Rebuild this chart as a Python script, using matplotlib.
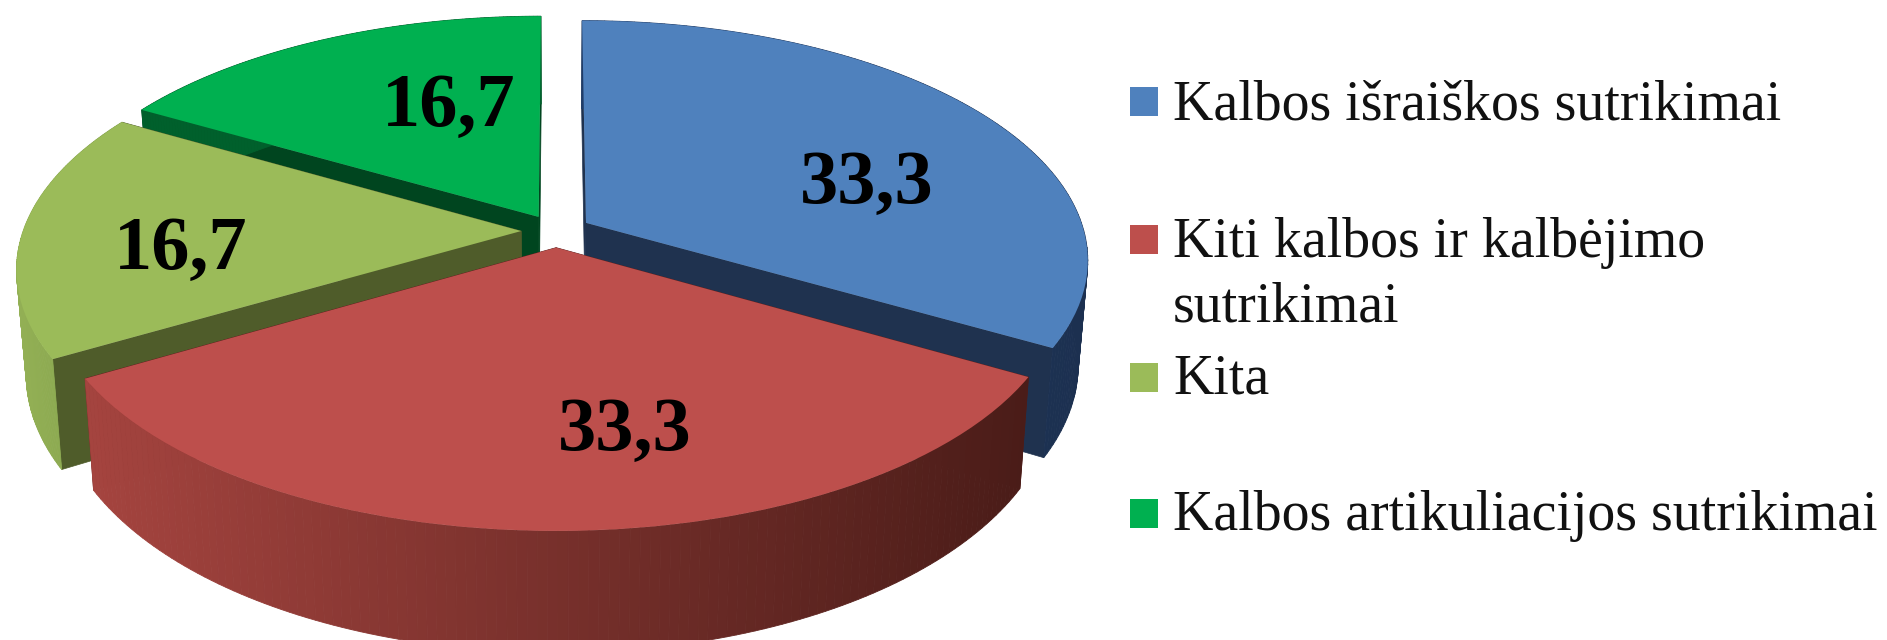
import numpy as np
import matplotlib
matplotlib.use("Agg")
import matplotlib.pyplot as plt
from matplotlib.patches import Polygon, Rectangle
from matplotlib.transforms import Transform
from matplotlib.colors import to_rgb

# ---- data ----
categories = ["Kalbos išraiškos sutrikimai", "Kiti kalbos ir kalbėjimo\nsutrikimai",
              "Kita", "Kalbos artikuliacijos sutrikimai"]
values = [33.3, 33.3, 16.7, 16.7]
value_labels = ["33,3", "33,3", "16,7", "16,7"]

# ---- style ----
top_colors = ["#4F81BD", "#BD4F4C", "#9BBB59", "#00B050"]
cut_colors = ["#1F324F", "#5A1F1D", "#4F5C2A", "#00451F"]
rim_left = ["#1F3C68", "#A5443F", "#93B055", "#00602C"]
rim_right = ["#1C3050", "#4A1C18", "#82A04A", "#00602C"]
draw_order = [3, 2, 0, 1]          # back to front
label_xy = [(867, 184), (625, 431), (181, 250), (449, 107)]
legend_y = [101, 239, 377, 513]
legend_base = [120, 257, 393, 530]

CX, CY = 556.0, 231.0
RX, RY = 498.0, 235.0
PERSP = 0.151
DEPTH = 102.0
SHRINK = 0.018
EXPLODE = 0.07
FONT = "Liberation Serif"


def project(x, y, bottom=False):
    x = np.asarray(x, float)
    y = np.asarray(y, float)
    s = 1.0 / (1.0 + PERSP * y)
    k = 1.0 - SHRINK if bottom else 1.0
    sx = CX + RX * x * s * k
    sy = CY - RY * y * s + (DEPTH * s if bottom else 0.0)
    return np.column_stack([sx, sy])


class Perspective(Transform):
    input_dims = 2
    output_dims = 2
    is_separable = False
    has_inverse = False

    def transform_non_affine(self, values):
        v = np.asarray(values, float)
        return project(v[:, 0], v[:, 1])


fig = plt.figure(figsize=(18.87, 6.40), dpi=100, facecolor="white")
ax = fig.add_axes([0, 0, 1, 1])

wedges, _ = ax.pie(values, explode=[EXPLODE] * len(values), colors=top_colors,
                   startangle=90, counterclock=False, radius=1.0,
                   wedgeprops=dict(linewidth=0))
ax.set_aspect("auto")
ax.set_xlim(0, 1887)
ax.set_ylim(640, 0)
ax.axis("off")

persp = Perspective() + ax.transData
for order, i in enumerate(draw_order):
    w = wedges[i]
    z = 10 + order * 3
    w.set_transform(persp)
    w.set_zorder(z + 2)
    cx, cy = w.center
    r = w.r
    t1, t2 = np.radians(w.theta1), np.radians(w.theta2)

    # radial cut faces
    for t in (t1, t2):
        px, py = cx + r * np.cos(t), cy + r * np.sin(t)
        top = project([cx, px], [cy, py])
        bot = project([cx, px], [cy, py], bottom=True)
        ax.add_patch(Polygon(np.vstack([top, bot[::-1]]), closed=True,
                             facecolor=cut_colors[i], edgecolor=cut_colors[i],
                             linewidth=0.5, zorder=z))

    # outer rim, strip by strip with a left-to-right shade
    ts = np.linspace(t1, t2, 121)
    c0, c1 = np.array(to_rgb(rim_left[i])), np.array(to_rgb(rim_right[i]))
    xs = cx + r * np.cos(ts)
    ys = cy + r * np.sin(ts)
    top = project(xs, ys)
    bot = project(xs, ys, bottom=True)
    lo, hi = top[:, 0].min(), top[:, 0].max()
    for j in range(len(ts) - 1):
        f = (0.5 * (top[j, 0] + top[j + 1, 0]) - lo) / max(hi - lo, 1)
        col = tuple(c0 + (c1 - c0) * f)
        quad = np.array([top[j], top[j + 1], bot[j + 1], bot[j]])
        ax.add_patch(Polygon(quad, closed=True, facecolor=col, edgecolor=col,
                             linewidth=0.6, zorder=z + 1))

for lab, (lx, ly) in zip(value_labels, label_xy):
    ax.text(lx, ly, lab, family=FONT, weight="bold", fontsize=55, color="black",
            ha="center", va="center", zorder=40)

for name, col, sy, by in zip(categories, top_colors, legend_y, legend_base):
    ax.add_patch(Rectangle((1130, sy - 14.5), 28, 29, facecolor=col, edgecolor="none", zorder=40))
    lines = name.split("\n")
    for k, ln in enumerate(lines):
        ax.text(1173, by + k * 65, ln, family=FONT, fontsize=40.2, color="#111111",
                ha="left", va="baseline", zorder=40)

fig.savefig("out.png", dpi=100, facecolor="white")
